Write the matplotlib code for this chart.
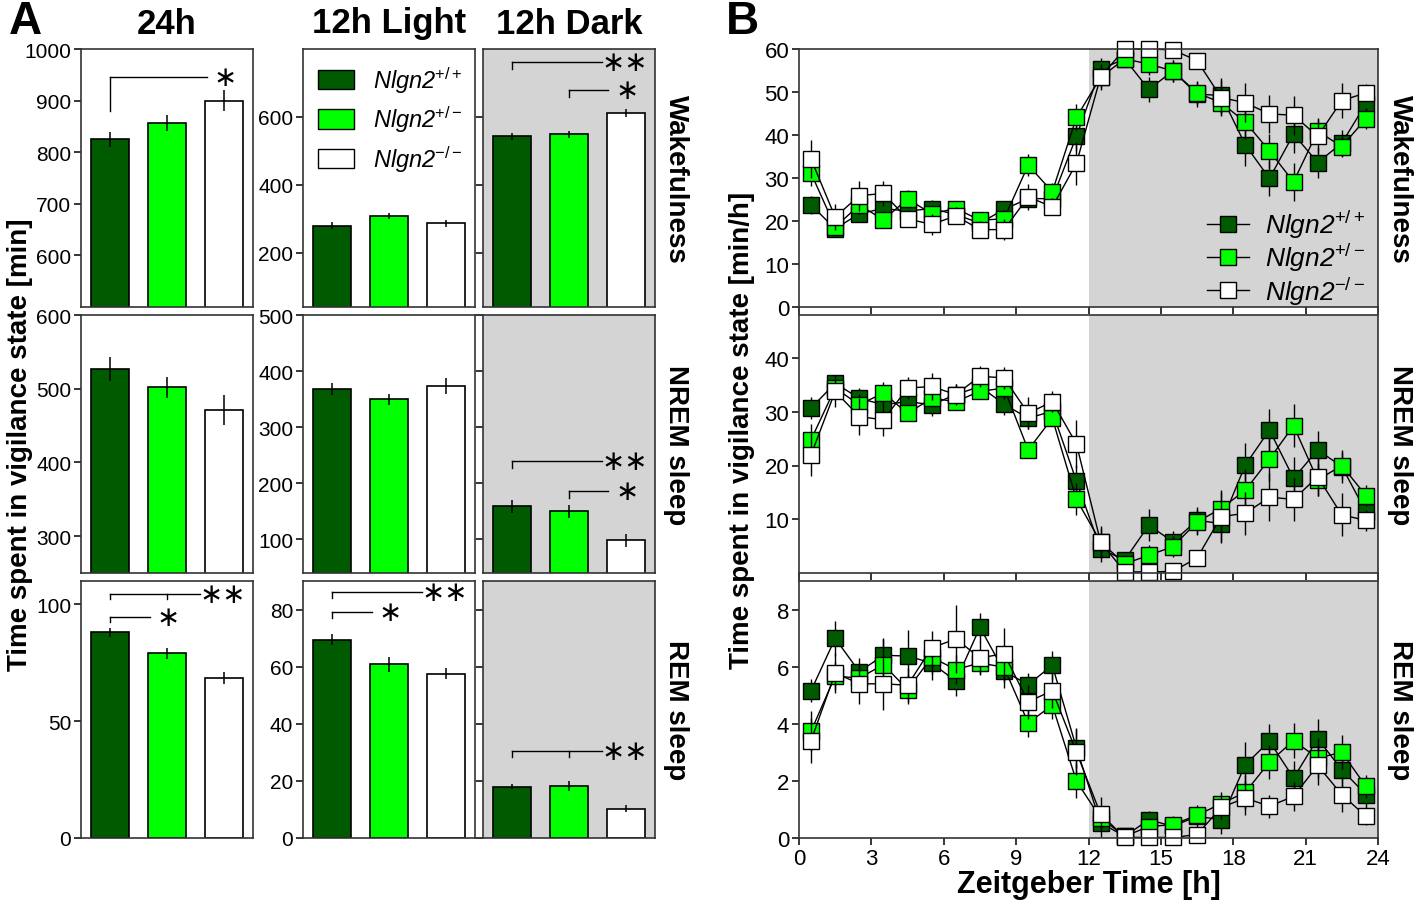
import matplotlib
matplotlib.use('Agg')
import matplotlib.pyplot as plt
from matplotlib.patches import Patch
from matplotlib.lines import Line2D

plt.rcParams['font.family'] = ['Liberation Sans', 'DejaVu Sans']
plt.rcParams['mathtext.fontset'] = 'custom'
plt.rcParams['mathtext.rm'] = 'Liberation Sans'
plt.rcParams['mathtext.it'] = 'Liberation Sans:italic'

W, H = 1418, 912

genotypes = ['Nlgn2$^{+/+}$', 'Nlgn2$^{+/-}$', 'Nlgn2$^{-/-}$']
colors = ['#005a00', '#00ff00', '#ffffff']
states = ['Wakefulness', 'NREM sleep', 'REM sleep']
periods = ['24h', '12h Light', '12h Dark']

# A: time in state [min], mean and SEM per genotype
wake_24h = [825, 857, 900]
wake_24h_err = [15, 15, 20]
wake_light = [280, 307, 286]
wake_light_err = [10, 9, 11]
wake_dark = [543, 549, 612]
wake_dark_err = [10, 10, 11]
nrem_24h = [527, 502, 471]
nrem_24h_err = [16, 14, 20]
nrem_light = [368, 350, 374]
nrem_light_err = [10, 10, 14]
nrem_dark = [159, 150, 98]
nrem_dark_err = [12, 12, 12]
rem_24h = [88, 79, 68.5]
rem_24h_err = [2, 2.5, 2.5]
rem_light = [69.5, 60.8, 57.6]
rem_light_err = [2, 2.5, 1.8]
rem_dark = [18, 18.2, 10.3]
rem_dark_err = [1, 1.6, 1.3]

# B: time course [min/h]
zt = [0.5, 1.5, 2.5, 3.5, 4.5, 5.5, 6.5, 7.5, 8.5, 9.5, 10.5, 11.5,
      12.5, 13.5, 14.5, 15.5, 16.5, 17.5, 18.5, 19.5, 20.5, 21.5, 22.5, 23.5]

wake_wt = [23.7, 18.2, 21.7, 22.9, 22.3, 22.9, 21.5, 19.5, 22.7, 25.2, 25.2, 39.7,
           55.3, 57.7, 50.6, 54.9, 49.5, 49.2, 37.7, 29.9, 40.2, 33.6, 38.1, 47.3]
wake_wt_err = [2, 1.5, 2, 2.5, 2, 2, 2, 1.5, 2, 2, 2, 3.5,
               2.5, 1.5, 3, 2.5, 3, 4, 5, 4, 4.5, 3.5, 3, 2.5]
wake_het = [31.1, 18.6, 23.7, 20.3, 25.1, 21.7, 22.9, 20.2, 20.5, 33.0, 26.8, 44.1,
            53.4, 57.7, 56.5, 54.9, 49.8, 47.5, 43.0, 36.3, 29.1, 40.9, 37.3, 43.8]
wake_het_err = [3, 1.5, 2, 2, 2, 2, 1.5, 1.5, 2, 2.5, 2, 3,
                2.5, 1.5, 2.5, 2.5, 2.5, 3, 4, 4, 4.5, 3, 2.5, 2.5]
wake_ko = [34.4, 20.9, 25.9, 26.4, 20.5, 19.2, 21.2, 18.0, 18.0, 25.6, 23.3, 33.4,
           53.5, 60.0, 60.0, 59.8, 57.3, 48.7, 47.5, 44.9, 44.6, 39.7, 48.0, 49.8]
wake_ko_err = [4.5, 3, 3.5, 3, 2, 2.5, 2, 2, 2.5, 3, 2, 5,
               3, 1, 1, 1, 1.5, 4, 4.5, 4.5, 4.5, 4, 4, 2]

nrem_wt = [30.7, 35.3, 32.5, 31.3, 31.9, 31.3, 33.2, 34.7, 31.4, 28.8, 30.1, 17.1,
           4.5, 2.4, 8.9, 5.8, 9.8, 9.2, 20.1, 26.6, 17.6, 22.9, 19.8, 11.4]
nrem_wt_err = [2, 1.5, 2, 2.5, 2, 2, 2, 1.5, 2, 2, 2, 3,
               2.5, 1.5, 3, 2, 2.5, 3.5, 4, 4, 4, 3.5, 3, 2.5]
nrem_het = [24.8, 34.4, 31.3, 33.5, 29.7, 32.5, 31.9, 33.8, 34.4, 22.9, 28.8, 13.7,
            5.8, 1.7, 3.3, 4.9, 9.5, 12.0, 15.4, 21.2, 27.4, 17.3, 20.0, 14.4]
nrem_het_err = [3, 1.5, 2, 2, 1.5, 1.5, 1.5, 1.5, 2, 1.5, 1.5, 3,
                2.5, 1.5, 2, 2, 2.5, 3, 4, 4, 4, 3, 2.5, 2]
nrem_ko = [22.0, 33.8, 29.1, 28.5, 34.4, 34.7, 33.2, 36.6, 36.3, 29.7, 31.9, 24.0,
           5.8, 0.2, 0.2, 0.3, 2.8, 10.5, 11.1, 14.1, 13.7, 17.9, 10.8, 9.8]
nrem_ko_err = [4, 3, 3.5, 3, 2, 2.5, 2, 2, 2, 3, 2, 4.5,
               3, 0.5, 0.5, 0.8, 1.5, 5, 4, 4.5, 4, 3.5, 4, 2]

rem_wt = [5.16, 6.99, 5.82, 6.40, 6.37, 6.13, 5.49, 7.38, 5.84, 5.37, 6.05, 3.15,
          0.53, 0.06, 0.64, 0.41, 0.76, 0.64, 2.57, 3.39, 2.10, 3.48, 2.39, 1.52]
rem_wt_err = [0.4, 0.6, 0.5, 0.6, 0.9, 0.6, 0.5, 0.5, 0.6, 0.4, 0.5, 0.7,
              0.5, 0.1, 0.3, 0.3, 0.4, 0.5, 0.8, 0.6, 0.6, 0.7, 0.6, 0.5]
rem_het = [3.74, 5.67, 5.60, 6.07, 5.20, 6.33, 5.90, 6.13, 5.98, 4.03, 4.65, 1.99,
           0.70, 0.06, 0.40, 0.47, 0.80, 1.20, 1.60, 2.66, 3.41, 2.80, 3.00, 1.81]
rem_het_err = [0.7, 0.5, 0.5, 0.9, 0.5, 0.6, 0.5, 0.4, 0.5, 0.5, 0.5, 0.6,
               0.4, 0.1, 0.3, 0.3, 0.3, 0.4, 0.6, 0.6, 0.6, 0.7, 0.6, 0.4]
rem_ko = [3.41, 5.78, 5.40, 5.40, 5.35, 6.66, 6.97, 6.31, 6.45, 4.77, 5.16, 3.01,
          0.84, 0.02, 0.02, 0.02, 0.12, 1.07, 1.40, 1.11, 1.46, 2.54, 1.52, 0.76]
rem_ko_err = [0.8, 0.7, 0.7, 0.9, 0.6, 0.6, 1.2, 0.6, 0.9, 0.6, 0.6, 0.8,
              0.6, 0.1, 0.1, 0.1, 0.2, 0.4, 0.6, 0.4, 0.5, 0.7, 0.6, 0.3]

bar_table = [
    [(wake_24h, wake_24h_err), (wake_light, wake_light_err), (wake_dark, wake_dark_err)],
    [(nrem_24h, nrem_24h_err), (nrem_light, nrem_light_err), (nrem_dark, nrem_dark_err)],
    [(rem_24h, rem_24h_err), (rem_light, rem_light_err), (rem_dark, rem_dark_err)],
]
line_table = [
    [(wake_wt, wake_wt_err), (wake_het, wake_het_err), (wake_ko, wake_ko_err)],
    [(nrem_wt, nrem_wt_err), (nrem_het, nrem_het_err), (nrem_ko, nrem_ko_err)],
    [(rem_wt, rem_wt_err), (rem_het, rem_het_err), (rem_ko, rem_ko_err)],
]

GRAY = '#d4d4d4'
cols_px = [(81, 253), (303, 475), (483, 655)]
rows_px = [(50, 308), (316, 574), (582, 839)]


def axpos(l, r, t, b):
    return [l / W, 1 - b / H, (r - l) / W, (b - t) / H]


def fx(x):
    return x / W


def fy(y):
    return 1 - y / H


fig = plt.figure(figsize=(W / 100, H / 100), dpi=100)

ylims_a = [[(500, 1000), (40, 800), (40, 800)],
           [(250, 600), (40, 500), (40, 500)],
           [(0, 110), (0, 90), (0, 90)]]
yticks_a = [[[600, 700, 800, 900, 1000], [200, 400, 600], [200, 400, 600]],
            [[300, 400, 500, 600], [100, 200, 300, 400, 500], [100, 200, 300, 400, 500]],
            [[0, 50, 100], [0, 20, 40, 60, 80], [0, 20, 40, 60, 80]]]

axes_a = {}
for r, (t, b) in enumerate(rows_px):
    for c, (l, rr) in enumerate(cols_px):
        ax = fig.add_axes(axpos(l, rr, t, b))
        axes_a[(r, c)] = ax
        vals, errs = bar_table[r][c]
        ax.bar([0, 1, 2], vals, width=0.67, color=colors, edgecolor='black',
               linewidth=1.2, zorder=2)
        ax.errorbar([0, 1, 2], vals, yerr=errs, fmt='none', ecolor='black',
                    elinewidth=1.1, capsize=0, zorder=3)
        ax.set_xlim(-0.51, 2.51)
        ax.set_ylim(*ylims_a[r][c])
        ax.set_yticks(yticks_a[r][c])
        ax.set_xticks([])
        if c == 2:
            ax.set_facecolor(GRAY)
            ax.set_yticklabels([])
        ax.tick_params(axis='y', direction='out', length=5, width=1.1,
                       labelsize=15, pad=2)
        for s in ax.spines.values():
            s.set_linewidth(1.2)
            s.set_color('#333333')

# significance brackets: (row, col, y, tick bottom, x end, tick xs, label, label x)
brackets = [
    (0, 0, 946, 880, 1.70, [0], '∗', 2.02),
    (0, 2, 762, 741, 1.58, [0], '∗∗', 1.98),
    (0, 2, 679, 659, 1.68, [1], '∗', 2.02),
    (1, 2, 240, 228, 1.58, [0], '∗∗', 1.98),
    (1, 2, 187, 173, 1.68, [1], '∗', 2.02),
    (2, 0, 104.5, 102.2, 1.58, [0, 1], '∗∗', 1.98),
    (2, 0, 94.7, 92.4, 0.70, [0], '∗', 1.02),
    (2, 1, 86, 84, 1.58, [0], '∗∗', 1.98),
    (2, 1, 79, 77, 0.70, [0], '∗', 1.02),
    (2, 2, 30.5, 28.4, 1.58, [0, 1], '∗∗', 1.98),
]
for r, c, y, yb, xe, txs, lab, lx in brackets:
    ax = axes_a[(r, c)]
    ax.plot([min(txs), xe], [y, y], color='black', lw=1.0, zorder=4)
    for tx in txs:
        ax.plot([tx, tx], [y, yb], color='black', lw=1.0, zorder=4)
    ax.text(lx, y, lab, ha='center', va='center', fontsize=20,
            family='DejaVu Sans', zorder=5)

# legend in 12h Light / wakefulness
handles = [Patch(facecolor=col, edgecolor='black', linewidth=1.0) for col in colors]
axes_a[(0, 1)].legend(handles, genotypes, loc='upper left', frameon=False,
                      handlelength=1.5, handleheight=0.9,
                      borderaxespad=0.25, labelspacing=0.4, handletextpad=0.8,
                      prop={'style': 'italic', 'size': 17})

# panel B
bl, br = 799, 1378
ylims_b = [(0, 60), (0, 48), (0, 9)]
yticks_b = [[0, 10, 20, 30, 40, 50, 60], [10, 20, 30, 40], [0, 2, 4, 6, 8]]
axes_b = []
for r, (t, b) in enumerate(rows_px):
    ax = fig.add_axes(axpos(bl, br, t, b))
    axes_b.append(ax)
    ax.axvspan(12, 24, color=GRAY, zorder=0, lw=0)
    for g in range(3):
        vals, errs = line_table[r][g]
        ax.errorbar(zt, vals, yerr=errs, fmt='none', ecolor='black',
                    elinewidth=1.0, capsize=0, zorder=2 + g, clip_on=False)
        ax.plot(zt, vals, '-', color='black', lw=1.0, marker='s', markersize=11,
                markerfacecolor=colors[g], markeredgecolor='black',
                markeredgewidth=1.0, zorder=2.5 + g, clip_on=False)
    ax.set_xlim(0, 24)
    ax.set_ylim(*ylims_b[r])
    ax.set_yticks(yticks_b[r])
    ax.set_xticks(range(0, 25, 3))
    if r < 2:
        ax.set_xticklabels([])
    ax.tick_params(direction='out', length=5, width=1.1, labelsize=16, pad=2)
    for s in ax.spines.values():
        s.set_linewidth(1.2)
        s.set_color('#333333')
        s.set_zorder(10)

leg_handles = [Line2D([0], [0], color='black', lw=1.0, marker='s', markersize=11,
                      markerfacecolor=col, markeredgecolor='black')
               for col in colors]
axes_b[0].legend(leg_handles, genotypes, loc='lower right', frameon=False,
                 bbox_to_anchor=(1.0, -0.05),
                 handlelength=1.6, labelspacing=0.05, borderaxespad=0.1,
                 handletextpad=0.6, prop={'style': 'italic', 'size': 19})
axes_b[2].set_xlabel('Zeitgeber Time [h]', fontsize=22, fontweight='bold',
                     labelpad=0)

# texts
for c, name in enumerate(periods):
    l, rr = cols_px[c]
    fig.text(fx((l + rr) / 2), fy(24), name, ha='center', va='center',
             fontsize=25, fontweight='bold')
for r, name in enumerate(states):
    t, b = rows_px[r]
    fig.text(fx(676), fy((t + b) / 2), name, ha='center', va='center',
             rotation=-90, fontsize=20, fontweight='bold')
    fig.text(fx(1400), fy((t + b) / 2), name, ha='center', va='center',
             rotation=-90, fontsize=20, fontweight='bold')
fig.text(fx(20), fy(445), 'Time spent in vigilance state [min]', ha='center',
         va='center', rotation=90, fontsize=20, fontweight='bold')
fig.text(fx(742), fy(430), 'Time spent in vigilance state [min/h]', ha='center',
         va='center', rotation=90, fontsize=20, fontweight='bold')
fig.text(fx(25), fy(22), 'A', ha='center', va='center', fontsize=33, fontweight='bold')
fig.text(fx(742), fy(22), 'B', ha='center', va='center', fontsize=33, fontweight='bold')

fig.savefig('out.png', dpi=100)
